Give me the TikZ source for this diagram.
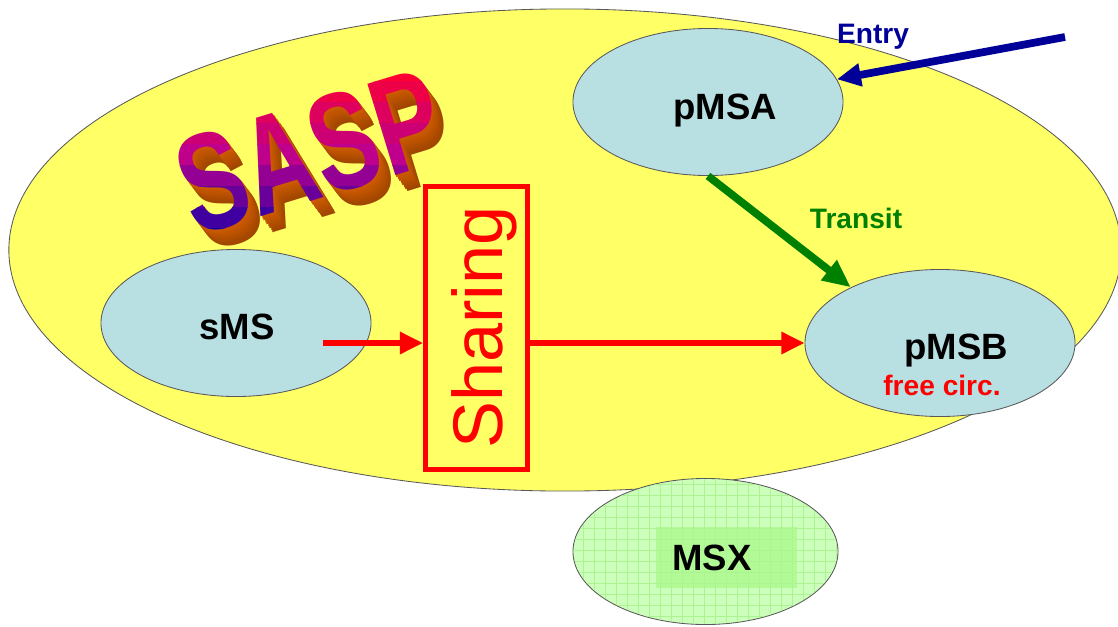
\documentclass[tikz,border=0pt]{standalone}
\usepackage{fontspec}
\setmainfont{Liberation Sans}
\usepackage{tikz}
\usetikzlibrary{
  arrows.meta,
  positioning,
  shapes.geometric
}
\tikzset{>=stealth}
\usepackage{xcolor}
\definecolor{saspyellow}{RGB}{255,255,102}
\definecolor{msblue}{RGB}{184,223,226}
\definecolor{msxgreen}{RGB}{204,255,187}
\definecolor{msxgrid}{RGB}{172,243,145}
\definecolor{msxinner}{RGB}{178,250,150}
\definecolor{entryblue}{RGB}{0,0,153}
\definecolor{transitgreen}{RGB}{0,128,0}
\definecolor{sideorange}{RGB}{210,92,0}
\newcommand{\saspfont}{\fontsize{70}{74}\selectfont\bfseries}
\tikzset{
  sasptext/.style={font=\saspfont, rotate=17, yscale=1.41, inner sep=0pt}
}

\begin{document}
\begin{tikzpicture}[x=0.025cm, y=-0.025cm,
    bubble/.style={ellipse, draw=black!65, line width=0.6pt, fill=msblue,
      minimum width=6.75cm, minimum height=3.675cm, inner sep=0pt},
    lbl/.style={font=\fontsize{26}{30}\selectfont\bfseries, anchor=base, inner sep=0pt},
    note/.style={font=\fontsize{20}{24}\selectfont\bfseries, anchor=base, inner sep=0pt},
    redflow/.style={draw=red, line width=4pt, -{Triangle[length=5.8mm, width=5.3mm]}},
    transitflow/.style={draw=transitgreen, line width=5.5pt, -{Triangle[length=7mm, width=6mm]}},
    entryflow/.style={draw=entryblue, line width=5.5pt, -{Triangle[length=6mm, width=5.5mm]}}]
	\path[use as bounding box, fill=white] (0,0) rectangle (1118,626);

	\node[ellipse, draw=black!65, line width=0.6pt, fill=saspyellow,
	  minimum width=27.8cm, minimum height=12.05cm] (sasp) at (565,250) {};

	% 3d logo: extruded sides first, then the face in colour bands
	\foreach \d in {8,7,...,1} {
	  \pgfmathtruncatemacro\dark{100-3*\d}
	  \node[sasptext, text=sideorange!\dark!black] (saspside\d) at (310+1.5*\d,152+2*\d) {SASP};
	}
	\foreach \i in {0,...,8} {
	  \pgfmathtruncatemacro\rr{\i<4 ? 255-\i*17 : 190-(\i-4)*42}
	  \pgfmathtruncatemacro\bb{\i<4 ? 50+\i*22 : 140+(\i-4)*7}
	  \begin{scope}
	    \clip (150,60+\i*21) rectangle (480,81.5+\i*21);
	    \node[sasptext, text={rgb,255:red,\rr;green,0;blue,\bb}] (saspface\i) at (310,152) {SASP};
	  \end{scope}
	}

	\node[bubble] (pmsa) at (708,102) {};
	\node[bubble] (sms) at (236,323) {};
	\node[bubble] (pmsb) at (940,343) {};

	\node[ellipse, draw=black!65, line width=0.6pt, fill=msxgreen,
	  minimum width=6.625cm, minimum height=3.65cm, inner sep=0pt] (msx) at (705.5,551.5) {};
	\begin{scope}
	  \clip (msx.center) ellipse [x radius=3.29cm, y radius=1.81cm];
	  \fill[msxinner] (656,527) rectangle (797,588);
	  \draw[msxgrid, line width=0.5pt] (560,630) grid[step=0.275cm] (850,470);
	\end{scope}

	\node[draw=red, line width=3.5pt, minimum width=2.55cm, minimum height=7.09cm,
	  inner sep=0pt] (sharing) at (476.5,328) {};
	\node[font=\fontsize{50}{54}\selectfont, text=red, rotate=90, anchor=base,
	  inner sep=0pt] (sharingtext) at (502,327.5) {Sharing};

	\node[lbl] (pmsalabel) at (725,119) {pMSA};
	\node[lbl] (smslabel) at (237,339) {sMS};
	\node[lbl] (pmsblabel) at (956,359) {pMSB};
	\node[note, text=red] (freecirc) at (942,395) {free circ.};
	\node[lbl] (msxlabel) at (712,570) {MSX};
	\node[note, text=entryblue] (entry) at (873,43) {Entry};
	\node[note, text=transitgreen] (transit) at (856,228) {Transit};

	\coordinate (smsout) at (323,343);
	\coordinate (entrystart) at (1065,37);
	\draw[redflow] (smsout) -- (sharing.west |- smsout);
	\draw[redflow] (sharing.east |- smsout) -- (pmsb.west);
	\draw[transitflow] (pmsa.south) -- (pmsb.148);
	\draw[entryflow] (entrystart) -- (pmsa.10);
\end{tikzpicture}
\end{document}
